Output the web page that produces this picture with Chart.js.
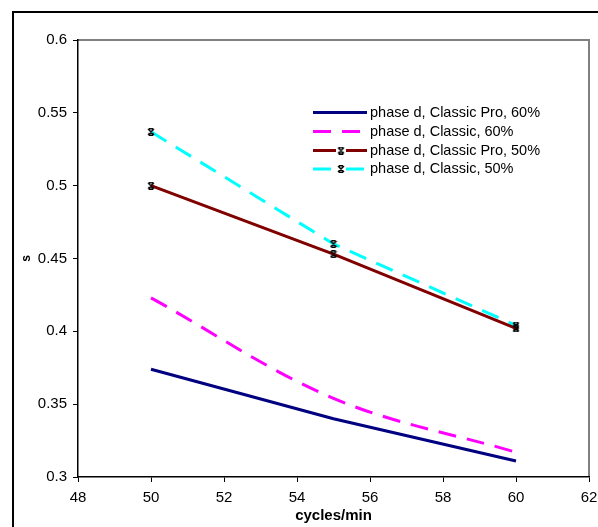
<!DOCTYPE html>
<html>
<head>
<meta charset="utf-8">
<script src="https://cdn.jsdelivr.net/npm/chart.js"></script>
<style>
  html, body { margin: 0; padding: 0; background: #fff; }
  #wrap { width: 598px; height: 527px; }
</style>
</head>
<body>
<div id="wrap"><canvas id="chart" width="598" height="527"></canvas></div>
<script>
// data
const cycles = [50, 55, 60];
const classicPro60 = [0.374, 0.340, 0.311];
const classic60 = [0.423, 0.354, 0.317];
const classicPro50 = [0.500, 0.453, 0.402];
const classic50 = [0.537, 0.460, 0.404];
const seriesLabels = [
  'phase d, Classic Pro, 60%',
  'phase d, Classic, 60%',
  'phase d, Classic Pro, 50%',
  'phase d, Classic, 50%'
];
const xRange = [48, 62];
const yRange = [0.3, 0.6];

const FONT = "'Liberation Sans', Arial, sans-serif";

// little black "x with bars" marker like the Excel one
function makeMarker() {
  const m = document.createElement('canvas');
  m.width = 8; m.height = 8;
  const g = m.getContext('2d');
  g.strokeStyle = '#000';
  g.lineWidth = 1.5;
  g.beginPath();
  g.moveTo(1, 1); g.lineTo(7, 7);
  g.moveTo(7, 1); g.lineTo(1, 7);
  g.moveTo(2, 0.8); g.lineTo(6, 0.8);
  g.moveTo(2, 7.2); g.lineTo(6, 7.2);
  g.stroke();
  return m;
}
const marker = makeMarker();

function pts(ys) {
  return cycles.map((x, i) => ({ x: x, y: ys[i] }));
}

const styles = [
  { color: '#000080', dash: [], marker: false, tension: 0 },
  { color: '#FF00FF', dash: [18, 11], marker: false, tension: 0.35 },
  { color: '#800000', dash: [], marker: true, tension: 0 },
  { color: '#00FFFF', dash: [18, 11], marker: true, tension: 0 }
];
const values = [classicPro60, classic60, classicPro50, classic50];

const datasets = values.map((v, i) => ({
  label: seriesLabels[i],
  data: pts(v),
  borderColor: styles[i].color,
  borderWidth: 3,
  borderDash: styles[i].dash,
  tension: styles[i].tension,
  pointStyle: styles[i].marker ? marker : false,
  pointRadius: styles[i].marker ? 4 : 0,
  fill: false
}));

// frame, plot border and the legend box
const decor = {
  id: 'decor',
  beforeDraw(chart) {
    const ctx = chart.ctx, a = chart.chartArea;
    ctx.save();
    ctx.fillStyle = '#fff';
    ctx.fillRect(0, 0, chart.width, chart.height);
    ctx.strokeStyle = '#000';
    ctx.lineWidth = 2;
    ctx.beginPath();
    ctx.moveTo(13, 527);
    ctx.lineTo(13, 12);
    ctx.lineTo(598, 12);
    ctx.stroke();
    ctx.strokeStyle = '#808080';
    ctx.lineWidth = 2;
    ctx.beginPath();
    ctx.moveTo(a.left, a.top);
    ctx.lineTo(a.right, a.top);
    ctx.lineTo(a.right, a.bottom);
    ctx.stroke();
    ctx.restore();
  },
  afterDraw(chart) {
    const ctx = chart.ctx;
    const x0 = 313, x1 = 367, tx = 370;
    const rows = [112.5, 131.5, 150.5, 169];
    ctx.save();
    chart.data.datasets.forEach((ds, i) => {
      const y = rows[i];
      ctx.strokeStyle = ds.borderColor;
      ctx.lineWidth = 3;
      ctx.setLineDash(ds.borderDash);
      ctx.beginPath();
      if (ds.pointStyle) {
        ctx.moveTo(x0, y); ctx.lineTo(336, y);
        ctx.moveTo(346, y); ctx.lineTo(x1, y);
      } else {
        ctx.moveTo(x0, y); ctx.lineTo(x1, y);
      }
      ctx.stroke();
      ctx.setLineDash([]);
      if (ds.pointStyle) ctx.drawImage(marker, 337, y - 4);
      ctx.fillStyle = '#000';
      ctx.font = '14.5px ' + FONT;
      ctx.textBaseline = 'middle';
      ctx.textAlign = 'left';
      ctx.fillText(ds.label, tx, y);
    });
    ctx.restore();
  }
};

new Chart(document.getElementById('chart'), {
  type: 'line',
  data: { datasets: datasets },
  plugins: [decor],
  options: {
    responsive: false,
    animation: false,
    devicePixelRatio: 1,
    layout: { padding: { left: 0, top: 40, right: 9, bottom: 0 } },
    plugins: { legend: { display: false }, tooltip: { enabled: false } },
    scales: {
      x: {
        type: 'linear',
        min: xRange[0], max: xRange[1],
        afterFit(s) { s.height = 50; s.paddingRight = 0; s.paddingLeft = 0; },
        ticks: { stepSize: 2, color: '#000', padding: 7, maxRotation: 0,
                 font: { family: FONT, size: 15 } },
        grid: { drawOnChartArea: false, drawTicks: true, tickLength: 5, color: '#000' },
        border: { color: '#000', width: 1.5 },
        title: { display: true, text: 'cycles/min', color: '#000',
                 font: { family: FONT, size: 15, weight: 'bold' },
                 padding: { top: 0, bottom: 2 } }
      },
      y: {
        min: yRange[0], max: yRange[1],
        afterFit(s) { s.width = 78; },
        ticks: { stepSize: 0.05, color: '#000', padding: 6,
                 font: { family: FONT, size: 15 },
                 callback: (v) => String(Number(v.toFixed(2))) },
        grid: { drawOnChartArea: false, drawTicks: true, tickLength: 5, color: '#000' },
        border: { color: '#000', width: 1.5 },
        title: { display: true, text: 's', color: '#000',
                 font: { family: FONT, size: 12, weight: 'bold' },
                 padding: { top: 19, bottom: 0 } }
      }
    }
  }
});
</script>
</body>
</html>
